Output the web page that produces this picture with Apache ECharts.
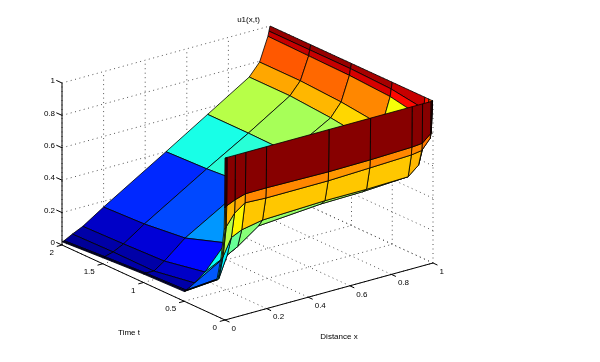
<!DOCTYPE html>
<html><head><meta charset="utf-8">
<style>html,body{margin:0;padding:0;background:#fff}#c{width:600px;height:362px}</style>
<script src="https://cdn.jsdelivr.net/npm/echarts@6/dist/echarts.min.js"></script>
</head><body><div id="c"></div>
<script>
// Mesh
const xMesh = [0,.005,.01,.05,.1,.2,.5,.7,.9,.95,.99,.995,1];
const tMesh = [0,.005,.01,.05,.1,.5,1,1.5,2];
// u1 values per time row
const uT0    = [1,1,1,1,1,1,1,1,1,1,1,1,1];
const uT0005 = [.69,.695,.70,.723,.743,.744,.738,.741,.749,.755,.80,.85,1];
const uT001  = [.56,.56,.57,.64,.686,.68,.681,.69,.70,.71,.77,.80,1];
const uT005  = [.37,.37,.375,.48,.51,.535,.549,.549,.556,.61,.80,.85,1];
const uT01   = [.224,.225,.23,.36,.395,.487,.517,.522,.537,.625,.875,.93,1];
const uT05   = [.06,.062,.065,.095,.145,.29,.47,.55,.665,.75,.915,.96,1];
const uT1    = [.052,.053,.055,.053,.097,.204,.43,.555,.70,.78,.93,.97,1];
const uT15   = [.037,.038,.04,.055,.087,.175,.41,.56,.72,.795,.935,.97,1];
const uT2    = [.02,.021,.023,.05,.08,.164,.40,.56,.72,.795,.94,.97,1];
const uRows = [uT0,uT0005,uT001,uT005,uT01,uT05,uT1,uT15,uT2];
// Ticks
const xTicks = [0,.2,.4,.6,.8,1];
const xTickLabels = ['0','0.2','0.4','0.6','0.8','1'];
const tTicks = [0,.5,1,1.5,2];
const tTickLabels = ['0','0.5','1','1.5','2'];
const zTicks = [0,.2,.4,.6,.8,1];
const zTickLabels = ['0','0.2','0.4','0.6','0.8','1'];

// Orthographic view of the 3-D box onto the page
const view = {ox:225, oy:320, xx:208, xy:-57, tx:-81.5, ty:-37.5, zy:-162};
const proj = (x,t,z) => [view.ox+view.xx*x+view.tx*t, view.oy+view.xy*x+view.ty*t+view.zy*z];

// MATLAB jet, 64 levels
function jet(v){
  const allU = uRows.flat(), lo = Math.min(...allU), hi = Math.max(...allU);
  let k = Math.min(63, Math.floor((v-lo)/(hi-lo)*64));
  const f = (k+.5)/64;
  const c = p => Math.max(0, Math.min(1, 1.5-Math.abs(4*f-p)));
  return 'rgb('+[c(3),c(2),c(1)].map(a=>Math.round(a*255)).join(',')+')';
}

// Faces, far to near
const faces = [];
for (let i=tMesh.length-2;i>=0;i--) for (let j=xMesh.length-2;j>=0;j--) faces.push([i,j]);

// Dotted grid on the back planes and solid axes
const gridSegs = [];
xTicks.forEach(x=>{gridSegs.push([x,0,0,x,2,0]); gridSegs.push([x,2,0,x,2,1]);});
tTicks.forEach(t=>{gridSegs.push([0,t,0,1,t,0]); gridSegs.push([1,t,0,1,t,1]);});
zTicks.forEach(z=>{gridSegs.push([0,2,z,1,2,z]); gridSegs.push([1,0,z,1,2,z]);});
const axisSegs = [[0,0,0,1,0,0],[0,0,0,0,2,0],[0,2,0,0,2,1]];
xTicks.forEach(x=>axisSegs.push([x,0,0,x,-.055,0]));
tTicks.forEach(t=>axisSegs.push([0,t,0,-.025,t,0]));
zTicks.forEach(z=>axisSegs.push([0,2,z,-.0,2.07,z]));

const labels = [];
xTicks.forEach((x,i)=>{const p=proj(x,0,0);labels.push([p[0]+6.5,p[1]+8.5,xTickLabels[i],'left']);});
tTicks.forEach((t,i)=>{const p=proj(0,t,0);labels.push([p[0]-8,p[1]+8,tTickLabels[i],'right']);});
zTicks.forEach((z,i)=>{const p=proj(0,2,z);labels.push([p[0]-7,p[1]-2,zTickLabels[i],'right']);});

const font = '8px "Liberation Sans", Arial, sans-serif';
const titleStyle = {fontSize:8,fontWeight:'normal',color:'#000',fontFamily:'Liberation Sans'};
function segSeries(data, style, z){
  return {type:'custom',coordinateSystem:'cartesian2d',silent:true,clip:false,z,data,
    renderItem:(p,api)=>{
      const s=data[p.dataIndex];
      const a=api.coord(proj(s[0],s[1],s[2])), b=api.coord(proj(s[3],s[4],s[5]));
      return {type:'line',shape:{x1:a[0],y1:a[1],x2:b[0],y2:b[1]},style};
    }};
}
const chart = echarts.init(document.getElementById('c'),null,{renderer:'canvas'});
chart.setOption({
  animation:false,backgroundColor:'#fff',
  grid:{left:0,right:0,top:0,bottom:0},
  xAxis:{type:'value',min:0,max:600,show:false},
  yAxis:{type:'value',min:0,max:362,inverse:true,show:false},
  title:[
    {text:'u1(x,t)',left:243.5,top:11,textAlign:'center',textStyle:titleStyle},
    {text:'Time t',left:124,top:324,textAlign:'center',textStyle:titleStyle},
    {text:'Distance x',left:334,top:328,textAlign:'center',textStyle:titleStyle}
  ],
  series:[
    segSeries(gridSegs,{stroke:'#555',lineWidth:1,lineDash:[1,3.5],fill:null},1),
    segSeries(axisSegs,{stroke:'#000',lineWidth:1,fill:null},2),
    {type:'custom',coordinateSystem:'cartesian2d',silent:true,clip:false,z:3,data:faces,
      renderItem:(p,api)=>{
        const [i,j]=faces[p.dataIndex];
        const pts=[[i,j],[i,j+1],[i+1,j+1],[i+1,j]].map(([a,b])=>api.coord(proj(xMesh[b],tMesh[a],uRows[a][b])));
        return {type:'polygon',shape:{points:pts},style:{fill:jet(uRows[i][j]),stroke:'#000',lineWidth:.8}};
      }},
    {type:'custom',coordinateSystem:'cartesian2d',silent:true,clip:false,z:4,data:labels,
      renderItem:(p,api)=>{
        const l=labels[p.dataIndex], c=api.coord([l[0],l[1]]);
        return {type:'text',x:c[0],y:c[1],style:{text:l[2],font:font,fill:'#000',textAlign:l[3],textVerticalAlign:'middle'}};
      }}
  ]
});
</script></body></html>
